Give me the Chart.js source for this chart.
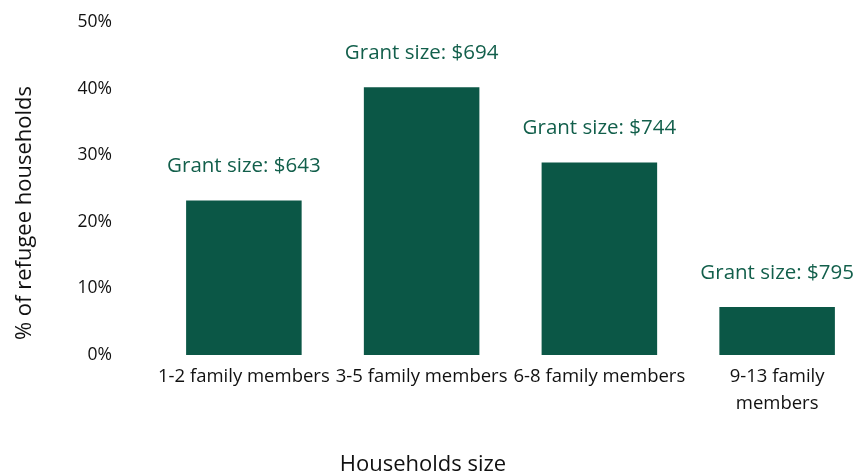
<!DOCTYPE html>
<html>
<head>
<meta charset="utf-8">
<script src="https://cdn.jsdelivr.net/npm/chart.js@4"></script>
<style>
  html, body { margin: 0; padding: 0; background: #fff; overflow: hidden; }
  #wrap { width: 857px; height: 475px; overflow: hidden; }
</style>
</head>
<body>
<div id="wrap"><canvas id="chart" width="880" height="475"></canvas></div>
<script>
// data
const categories = [
  "1-2 family members",
  "3-5 family members",
  "6-8 family members",
  ["9-13 family", "members"]
];
const shares = [23.2, 40.2, 28.9, 7.2];
const grantSizes = [643, 694, 744, 795];
const yTicks = [0, 10, 20, 30, 40, 50];

const GREEN = "#0b5746";
const FONT = "'Open Sans', sans-serif";

// grant labels above the bars + the two axis titles
const extras = {
  id: "extras",
  afterDatasetsDraw(chart) {
    const ctx = chart.ctx;
    const meta = chart.getDatasetMeta(0);
    ctx.save();
    ctx.textAlign = "center";
    ctx.textBaseline = "middle";

    ctx.font = `20.5px ${FONT}`;
    ctx.fillStyle = "#125f4b";
    meta.data.forEach((bar, i) => {
      ctx.fillText(`Grant size: $${grantSizes[i]}`, bar.x, bar.y - 34);
    });

    // Excel centres the titles on the whole chart box
    ctx.fillStyle = "#111";
    ctx.font = `22px ${FONT}`;
    ctx.fillText("Households size", 423, 465);

    ctx.translate(25, 213);
    ctx.rotate(-Math.PI / 2);
    ctx.fillText("% of refugee households", 0, 0);
    ctx.restore();
  }
};

new Chart(document.getElementById("chart"), {
  type: "bar",
  data: {
    labels: categories,
    datasets: [{
      data: shares,
      backgroundColor: GREEN,
      borderWidth: 0,
      categoryPercentage: 1,
      barPercentage: 0.65
    }]
  },
  options: {
    responsive: false,
    animation: false,
    layout: { padding: { top: 22, left: 0, right: 14, bottom: 50 } },
    plugins: {
      legend: { display: false },
      tooltip: { enabled: false }
    },
    scales: {
      x: {
        grid: { display: false, drawTicks: false },
        border: { display: false },
        ticks: {
          color: "#111",
          font: { family: FONT, size: 18.5, lineHeight: 1.46 },
          padding: 8,
          maxRotation: 0,
          autoSkip: false
        }
      },
      y: {
        min: 0,
        max: 50,
        grid: { display: false, drawTicks: false },
        border: { display: false },
        afterBuildTicks: s => { s.ticks = yTicks.map(v => ({ value: v })); },
        afterFit: s => {
          s.width = 155;
          s.paddingTop = 0;
          s.paddingBottom = 0;
        },
        ticks: {
          color: "#111",
          font: { family: FONT, size: 17.5 },
          padding: 43,
          callback: v => v + "%"
        }
      }
    }
  },
  plugins: [extras]
});
</script>
</body>
</html>
